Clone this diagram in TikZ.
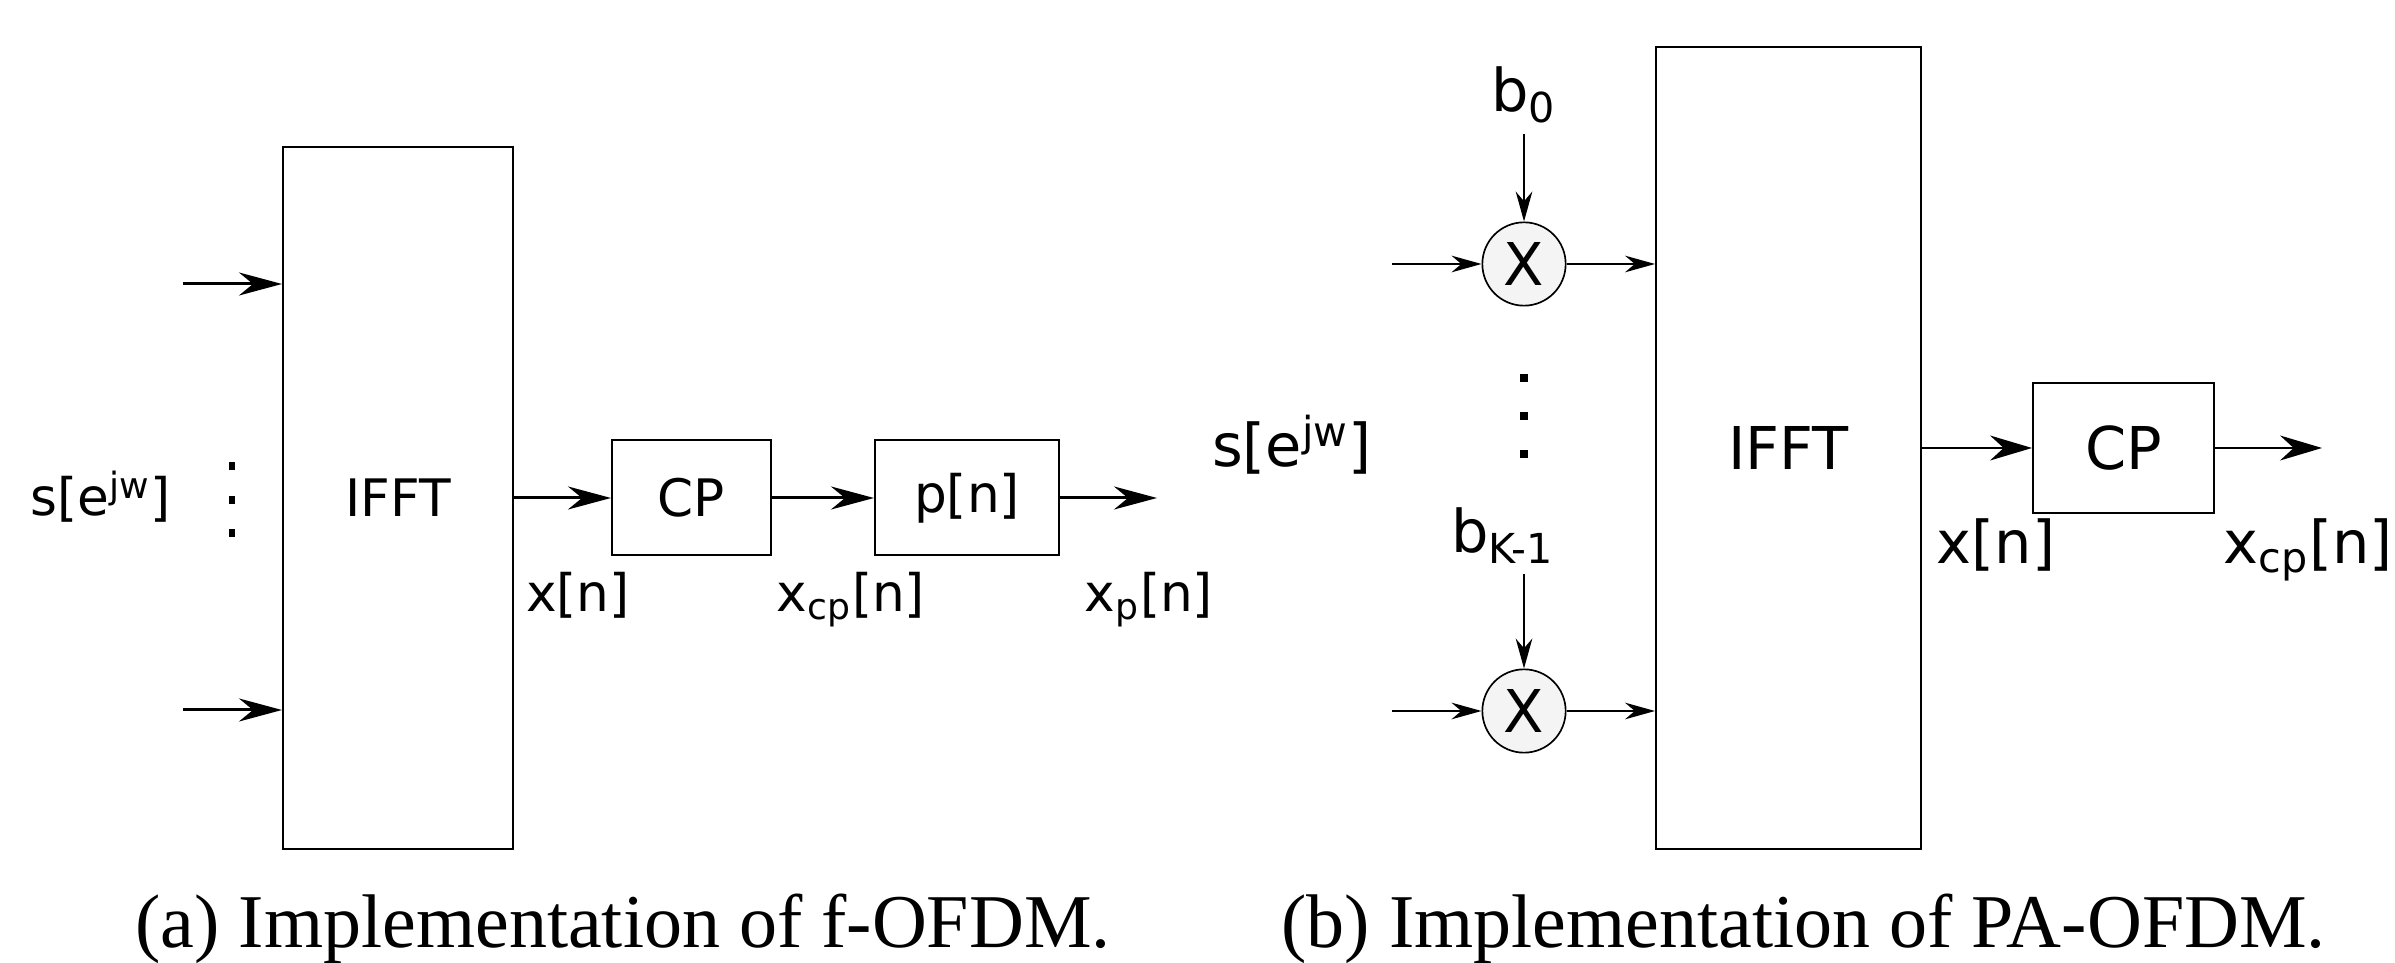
\documentclass[tikz,border=0pt]{standalone}
\usepackage{fontspec}
\newfontfamily\dvfont{DejaVu Sans}
\newfontfamily\capfont{Liberation Serif}
\usetikzlibrary{arrows.meta}
\newcommand\mysub[1]{\textsubscript{#1}}
\newcommand\mysup[1]{\textsuperscript{#1}}
\definecolor{multfill}{HTML}{F4F4F4}
\begin{document}
\begin{tikzpicture}[x=0.3pt,y=-0.3pt,
  fontA/.style={font=\dvfont\fontsize{15.5}{18}\selectfont},
  fontB/.style={font=\dvfont\fontsize{17.7}{21}\selectfont},
  boxA/.style={draw, line width=0.6pt, inner sep=0pt, fontA},
  boxB/.style={draw, line width=0.6pt, inner sep=0pt, fontB},
  lblA/.style={inner sep=0pt, anchor=base, fontA},
  lblB/.style={inner sep=0pt, anchor=base, fontB},
  mult/.style={draw, circle, line width=0.5pt, fill=multfill, minimum size=25pt, inner sep=0pt, fontB},
  arrA/.style={line width=0.9pt, -{Stealth[length=12.9pt,width=6.9pt]}},
  arrM/.style={line width=0.45pt, -{Stealth[length=9pt,width=5pt]}},
  arrB/.style={line width=0.5pt, -{Stealth[length=12.6pt,width=7.5pt]}},
  capt/.style={inner sep=0pt, anchor=base, font=\capfont\fontsize{22.8}{26}\selectfont},
  dotsq/.style={fill=black}
]
\useasboundingbox (0,0) rectangle (2395,963);

% ---------- (a) f-OFDM ----------
\node[boxA, minimum width=69pt, minimum height=210.6pt] (ifftA) at (398,498) {IFFT};
\node[boxA, minimum width=47.7pt, minimum height=34.5pt] (cpA) at (691.5,498) {CP};
\node[boxA, minimum width=55.2pt, minimum height=34.5pt] (pA) at (967,498) {p[n]};
\coordinate (inA1) at (183,284);
\coordinate (inA2) at (183,710);
\coordinate (outA) at (1157,498);
\draw[arrA] (inA1) -- (inA1 -| ifftA.west);
\draw[arrA] (inA2) -- (inA2 -| ifftA.west);
\draw[arrA] (ifftA.east) -- (cpA.west);
\draw[arrA] (cpA.east) -- (pA.west);
\draw[arrA] (pA.east) -- (outA);
\foreach \yy in {466,500,533} \fill[dotsq] (229,\yy-4) rectangle (235,\yy+4);
\node[lblA] (sA) at (101,516) {s[e\mysup{jw}]};
\node[lblA] (xA) at (578,612) {x[n]};
\node[lblA] (xcpA) at (851,612) {x\mysub{cp}[n]};
\node[lblA] (xpA) at (1149,612) {x\mysub{p}[n]};

% ---------- (b) PA-OFDM ----------
\node[boxB, minimum width=79.5pt, minimum height=240.6pt] (ifftB) at (1788.5,448) {IFFT};
\node[boxB, minimum width=54.3pt, minimum height=39pt] (cpB) at (2123.5,448) {CP};
\node[mult] (m1) at (1524,264) {X};
\node[mult] (m2) at (1524,711) {X};
\coordinate (inB1) at (1392,264);
\coordinate (inB2) at (1392,711);
\coordinate (outB) at (2322,448);
\draw[arrM] (inB1) -- (m1);
\draw[arrM] (inB2) -- (m2);
\draw[arrM] (m1) -- (m1 -| ifftB.west);
\draw[arrM] (m2) -- (m2 -| ifftB.west);
\node[lblB, inner sep=3pt] (b0) at (1524,112) {b\mysub{0}};
\node[lblB, inner sep=3pt] (bK) at (1503,553) {b\mysub{K-1}};
\draw[arrM] (b0.south -| m1) -- (m1.north);
\draw[arrM] (bK.south -| m2) -- (m2.north);
\foreach \yy in {378,416,454} \fill[dotsq] (1520,\yy-4) rectangle (1528,\yy+4);
\draw[arrB] (ifftB.east) -- (cpB.west);
\draw[arrB] (cpB.east) -- (outB);
\node[lblB] (sB) at (1292,467) {s[e\mysup{jw}]};
\node[lblB] (xB) at (1996,564) {x[n]};
\node[lblB] (xcpB) at (2308,564) {x\mysub{cp}[n]};

% ---------- captions ----------
\node[capt] (capA) at (623,947) {(a) Implementation of f-OFDM.};
\node[capt] (capB) at (1803.5,947) {(b) Implementation of PA-OFDM.};
\end{tikzpicture}
\end{document}
